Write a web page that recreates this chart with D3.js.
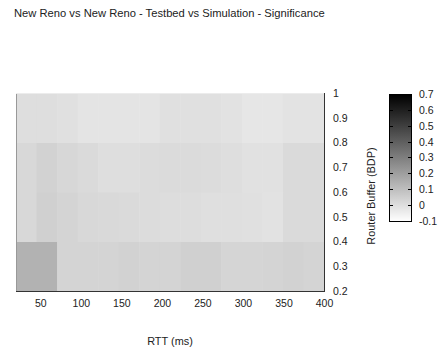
<!DOCTYPE html>
<html><head><meta charset="utf-8">
<script src="https://cdn.jsdelivr.net/npm/d3@7"></script>
<style>body{margin:0;background:#fff}svg{display:block;font-family:"Liberation Sans",Arial,sans-serif}</style>
</head><body>
<svg id="c" width="445" height="358"></svg>
<script>
const title = "New Reno vs New Reno - Testbed vs Simulation - Significance";
// RTT column lower edges (ms), last upper edge = 400
const rttEdges = [20, 45.33, 70.67, 96, 121.33, 146.67, 172, 197.33, 222.67, 248, 273.33, 298.67, 324, 349.33, 374.67, 400];
// Router buffer row lower edges (BDP)
const bufEdges = [0.2, 0.4, 0.6, 0.8, 1.0];
// Significance values per row (rows from buffer 0.2 up)
const sig02 = [0.142, 0.142, 0.035, 0.035, 0.035, 0.041, 0.035, 0.035, 0.047, 0.047, 0.032, 0.032, 0.035, 0.041, 0.035];
const sig04 = [0.022, 0.047, 0.035, 0.022, 0.019, 0.016, 0.010, 0.007, 0.007, 0.000, 0.000, -0.003, -0.009, 0.016, 0.016];
const sig06 = [0.022, 0.041, 0.026, 0.016, 0.004, 0.004, 0.010, 0.013, 0.013, 0.010, 0.004, -0.006, -0.006, 0.016, 0.016];
const sig08 = [0.004, 0.004, -0.003, -0.015, -0.015, -0.015, -0.015, -0.003, -0.003, -0.003, -0.009, -0.022, -0.022, -0.012, -0.012];
const xTicks = [50, 100, 150, 200, 250, 300, 350, 400];
const yTicks = [0.2, 0.3, 0.4, 0.5, 0.6, 0.7, 0.8, 0.9, 1];
const cbTicks = [-0.1, 0, 0.1, 0.2, 0.3, 0.4, 0.5, 0.6, 0.7];
const rows = [sig02, sig04, sig06, sig08];

const svg = d3.select("#c");
const L = 16, R = 324, T = 93, B = 291;
const x = d3.scaleLinear().domain([20, 400]).range([L, R]);
const y = d3.scaleLinear().domain([0.2, 1]).range([B, T]);
const color = d3.scaleLinear().domain([-0.1, 0.7]).range(["#ffffff", "#000000"]);
const FS = 10.5;

svg.append("text").attr("x", 14).attr("y", 17).attr("font-size", 11.2).attr("fill", "#222").text(title);

const cells = [];
rows.forEach((row, ri) => row.forEach((v, ci) => cells.push({x0: rttEdges[ci], x1: rttEdges[ci + 1], y0: bufEdges[ri], y1: bufEdges[ri + 1], v})));
svg.append("g").selectAll("rect").data(cells).join("rect")
  .attr("x", d => x(d.x0)).attr("width", d => x(d.x1) - x(d.x0) + 0.5)
  .attr("y", d => y(d.y1)).attr("height", d => y(d.y0) - y(d.y1) + 0.5)
  .attr("fill", d => color(d.v));

// borders
svg.append("line").attr("x1", L + 0.5).attr("x2", L + 0.5).attr("y1", T).attr("y2", B).attr("stroke", "#999");
svg.append("line").attr("x1", L).attr("x2", R).attr("y1", T + 0.5).attr("y2", T + 0.5).attr("stroke", "#ececec");
svg.append("line").attr("x1", L).attr("x2", R + 1).attr("y1", B + 0.5).attr("y2", B + 0.5).attr("stroke", "#333");
svg.append("line").attr("x1", R + 0.5).attr("x2", R + 0.5).attr("y1", T).attr("y2", B + 1).attr("stroke", "#333");

// x axis labels
const xa = svg.append("g").attr("transform", `translate(0,${B})`)
  .call(d3.axisBottom(x).tickValues(xTicks).tickSize(0).tickPadding(9).tickFormat(d3.format("d")));
xa.select(".domain").remove();
xa.selectAll("text").attr("font-size", FS).attr("fill", "#222").attr("font-family", "Liberation Sans, Arial, sans-serif");

// y axis labels on right
const ya = svg.append("g").attr("transform", `translate(${R},0)`)
  .call(d3.axisRight(y).tickValues(yTicks).tickSize(0).tickPadding(9).tickFormat(d => String(+d.toFixed(1))));
ya.select(".domain").remove();
ya.selectAll("text").attr("font-size", FS).attr("fill", "#222").attr("font-family", "Liberation Sans, Arial, sans-serif");

svg.append("text").attr("x", 170).attr("y", 345).attr("text-anchor", "middle").attr("font-size", 10.9).attr("fill", "#222").text("RTT (ms)");
svg.append("text").attr("transform", "translate(375,196) rotate(-90)").attr("text-anchor", "middle").attr("font-size", 10.9).attr("fill", "#222").text("Router Buffer (BDP)");

// colorbar
const cbL = 389, cbR = 411, cbT = 94, cbB = 221;
const cy = d3.scaleLinear().domain([-0.1, 0.7]).range([cbB, cbT]);
const defs = svg.append("defs");
const grad = defs.append("linearGradient").attr("id", "g").attr("x1", 0).attr("x2", 0).attr("y1", 1).attr("y2", 0);
grad.append("stop").attr("offset", 0).attr("stop-color", color(-0.1));
grad.append("stop").attr("offset", 1).attr("stop-color", color(0.7));
svg.append("rect").attr("x", cbL + 0.5).attr("y", cbT + 0.5).attr("width", cbR - cbL).attr("height", cbB - cbT)
  .attr("fill", "url(#g)").attr("stroke", "#000").attr("stroke-width", 1);
const cbg = svg.append("g");
cbg.selectAll("line.l").data(cbTicks.slice(1, -1)).join("line").attr("class", "l")
  .attr("x1", cbL).attr("x2", cbL + 4).attr("y1", d => Math.round(cy(d)) + 0.5).attr("y2", d => Math.round(cy(d)) + 0.5).attr("stroke", "#000");
cbg.selectAll("line.r").data(cbTicks.slice(1, -1)).join("line").attr("class", "r")
  .attr("x1", cbR - 3).attr("x2", cbR + 1).attr("y1", d => Math.round(cy(d)) + 0.5).attr("y2", d => Math.round(cy(d)) + 0.5).attr("stroke", "#000");
const cba = svg.append("g").attr("transform", `translate(${cbR},0)`)
  .call(d3.axisRight(cy).tickValues(cbTicks).tickSize(0).tickPadding(8).tickFormat(d => String(+d.toFixed(1))));
cba.select(".domain").remove();
cba.selectAll("text").attr("font-size", FS).attr("fill", "#222").attr("font-family", "Liberation Sans, Arial, sans-serif");
</script>
</body></html>
